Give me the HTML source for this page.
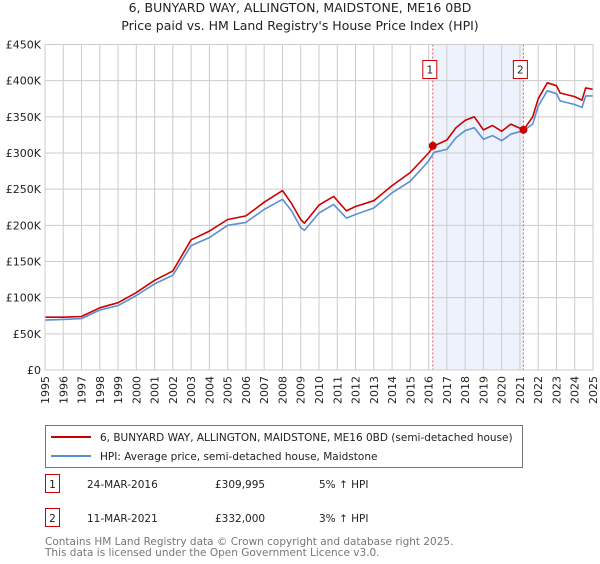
<!DOCTYPE html>
<html><head><meta charset="utf-8"><style>
body{margin:0;background:#fff;font-family:"DejaVu Sans","Liberation Sans",sans-serif;}
svg text{font-family:"DejaVu Sans","Liberation Sans",sans-serif;}
</style></head><body>
<svg id="chart" width="600" height="560" xmlns="http://www.w3.org/2000/svg">
<text x="300" y="12" text-anchor="middle" font-size="12.5" fill="#222">6, BUNYARD WAY, ALLINGTON, MAIDSTONE, ME16 0BD</text>
<text x="300" y="30" text-anchor="middle" font-size="12.5" fill="#222">Price paid vs. HM Land Registry's House Price Index (HPI)</text>
<g id="grid"></g><g id="marks"></g><g id="axes"></g>
<g>
<rect x="45.5" y="425.5" width="477" height="42" fill="#fff" stroke="#777"/>
<line x1="51" y1="437" x2="91" y2="437" stroke="#cc0000" stroke-width="2"/>
<text x="100" y="441" font-size="10.5" fill="#222">6, BUNYARD WAY, ALLINGTON, MAIDSTONE, ME16 0BD (semi-detached house)</text>
<line x1="51" y1="456" x2="91" y2="456" stroke="#5b8fd4" stroke-width="2"/>
<text x="100" y="460" font-size="10.5" fill="#222">HPI: Average price, semi-detached house, Maidstone</text>
</g>
<g font-size="10.5" fill="#222">
<rect x="45.5" y="474.5" width="14" height="18" fill="#fff" stroke="#cc0000"/>
<text x="52.5" y="488" text-anchor="middle">1</text>
<text x="87" y="488">24-MAR-2016</text>
<text x="215" y="488">£309,995</text>
<text x="319" y="488">5% ↑ HPI</text>
<rect x="45.5" y="508.5" width="14" height="18" fill="#fff" stroke="#cc0000"/>
<text x="52.5" y="522" text-anchor="middle">2</text>
<text x="87" y="522">11-MAR-2021</text>
<text x="215" y="522">£332,000</text>
<text x="319" y="522">3% ↑ HPI</text>
</g>
<text x="45" y="545" font-size="10.5" fill="#777">Contains HM Land Registry data © Crown copyright and database right 2025.</text>
<text x="45" y="556" font-size="10.5" fill="#777">This data is licensed under the Open Government Licence v3.0.</text>
</svg>
<script>
const hpiYears=[1995,1996,1997,1998,1999,2000,2001,2002,2003,2004,2005,2006,2007,2008,2008.5,2009,2009.2,2010,2010.8,2011.5,2012,2013,2014,2015,2016,2016.3,2017,2017.5,2018,2018.5,2019,2019.5,2020,2020.5,2021.2,2021.7,2022,2022.5,2023,2023.2,2024,2024.4,2024.6,2025];
const hpiValues=[69,70,71,83,89,103,119,131,172,183,200,204,222,236,220,197,193,217,229,210,215,224,245,261,289,301,305,321,331,335,319,324,317,326,331,340,365,386,382,372,367,363,379,379];
const propValues=[73,73,74,86,93,107,124,137,180,192,208,213,232,248,230,208,203,228,240,220,226,234,255,273,300,310,318,335,345,350,332,338,330,340,332,350,375,397,393,383,378,373,390,388];
const sales=[{n:"1",t:2016.23,v:309.995},{n:"2",t:2021.19,v:332}];
const yTicks=[0,50,100,150,200,250,300,350,400,450];
const yTickLabels=["£0","£50K","£100K","£150K","£200K","£250K","£300K","£350K","£400K","£450K"];
const xYears=[1995,1996,1997,1998,1999,2000,2001,2002,2003,2004,2005,2006,2007,2008,2009,2010,2011,2012,2013,2014,2015,2016,2017,2018,2019,2020,2021,2022,2023,2024,2025];

const X0=45,X1=593,Y0=370,Y1=44.5;
const xS=t=>X0+(t-1995)/30*(X1-X0);
const yS=v=>Y0-v/450*(Y0-Y1);
const NS="http://www.w3.org/2000/svg";
function mk(tag,attrs,parent){const e=document.createElementNS(NS,tag);for(const k in attrs)e.setAttribute(k,attrs[k]);parent.appendChild(e);return e;}
const grid=document.getElementById('grid'),marks=document.getElementById('marks'),axes=document.getElementById('axes');
const sh=mk('rect',{x:xS(sales[0].t),y:Y1,width:xS(sales[1].t)-xS(sales[0].t),height:Y0-Y1,fill:'#eef2fc'},grid);


yTicks.forEach((v,i)=>{
 const l=mk('line',{x1:X0,x2:X1,y1:yS(v),y2:yS(v),stroke:'#cccccc','stroke-width':1},grid);
 
 
 const t=mk('text',{x:X0-4,y:yS(v)+4,'text-anchor':'end','font-size':11,fill:'#222'},axes);
 t.textContent=yTickLabels[i];
 
 
});
xYears.forEach(y=>{
 const l=mk('line',{x1:xS(y),x2:xS(y),y1:Y1,y2:Y0,stroke:'#cccccc','stroke-width':1},grid);
 
 
 const t=mk('text',{x:0,y:0,'text-anchor':'end','font-size':11,fill:'#222',transform:`translate(${xS(y)+4},376) rotate(-90)`},axes);
 t.textContent=y;
 
 
});
sales.forEach(s=>{
 const l=mk('line',{x1:xS(s.t),x2:xS(s.t),y1:Y1,y2:Y0,stroke:'#ee5555','stroke-width':1,'stroke-dasharray':'2,2'},marks);
 
 
});
function path(vals,color,name){
 const d=hpiYears.map((t,i)=>(i?'L':'M')+xS(t).toFixed(1)+','+yS(vals[i]).toFixed(1)).join('');
 const p=mk('path',{d:d,fill:'none',stroke:color,'stroke-width':1.6,'stroke-linejoin':'round'},marks);
 
 
}
path(hpiValues,'#5b8fd4','hpi-line');
path(propValues,'#cc0000','property-price-line');
sales.forEach(s=>{
 const c=mk('circle',{cx:xS(s.t),cy:yS(s.v),r:4,fill:'#cc0000'},marks);
 
 
 const bx=xS(s.t)-10;
 const r=mk('rect',{x:bx,y:60.5,width:14,height:18,fill:'#fff',stroke:'#cc0000'},marks);
 
 
 const t=mk('text',{x:bx+7,y:73.5,'text-anchor':'middle','font-size':10.5,fill:'#222'},marks);
 t.textContent=s.n;
 
 
});
const fr=mk('rect',{x:X0,y:Y1,width:X1-X0,height:Y0-Y1,fill:'none',stroke:'#cccccc'},axes);


</script>
</body></html>
